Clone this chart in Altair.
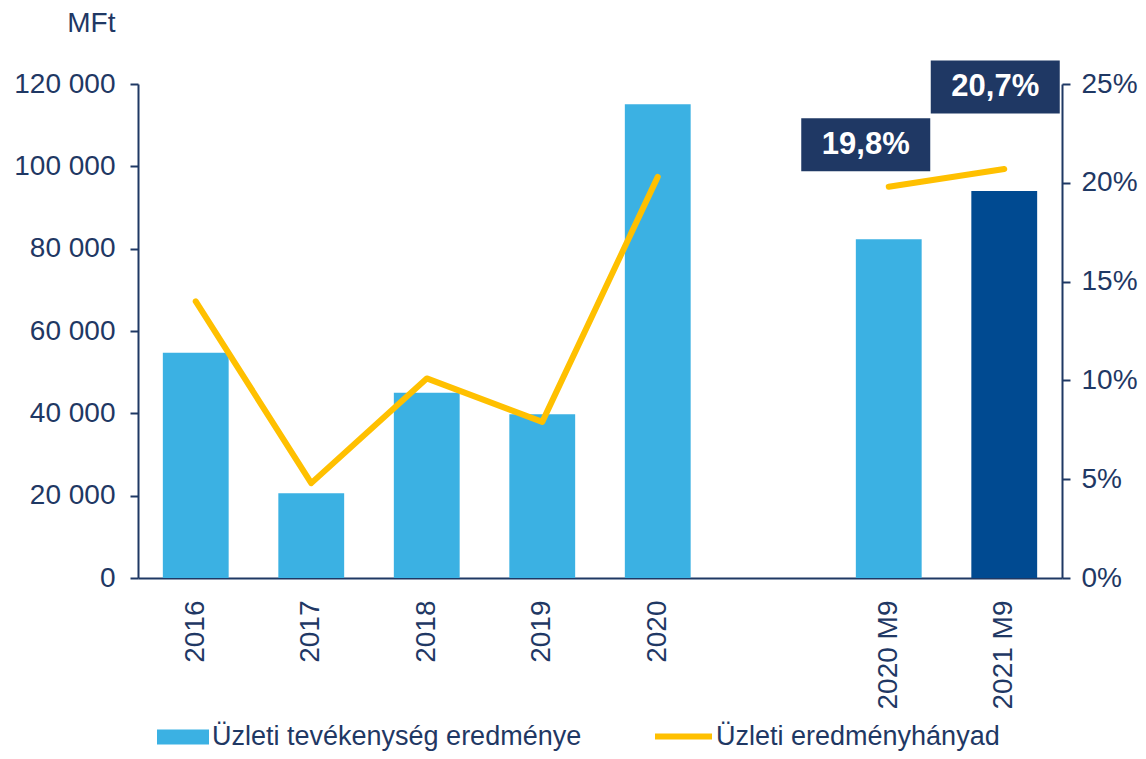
import altair as alt
import pandas as pd

# ---- data ----
categories = ["2016", "2017", "2018", "2019", "2020", " ", "2020 M9", "2021 M9"]
bar_cats = ["2016", "2017", "2018", "2019", "2020", "2020 M9", "2021 M9"]
bar_values = [54700, 20600, 45000, 39800, 115100, 82300, 94000]
pct_cats = ["2016", "2017", "2018", "2019", "2020", "2020 M9", "2021 M9"]
pct_values = [0.140, 0.048, 0.101, 0.079, 0.203, 0.198, 0.207]
pct_segment = ["év", "év", "év", "év", "év", "M9", "M9"]
pct_labels = ["14,0%", "4,8%", "10,1%", "7,9%", "20,3%", "19,8%", "20,7%"]
bar_series = "Üzleti tevékenység eredménye"
line_series = "Üzleti eredményhányad"

NAVY = "#1F3864"
LIGHT = "#3BB1E3"
DARK = "#004A91"
YELLOW = "#FFC000"
FONT = "Liberation Sans"

bars_df = pd.DataFrame({"cat": bar_cats, "value": bar_values, "series": bar_series})
pct_df = pd.DataFrame({"cat": pct_cats, "pct": pct_values, "seg": pct_segment,
                       "label": pct_labels, "series": line_series})

x_enc = alt.X("cat:N", scale=alt.Scale(domain=categories, paddingInner=0.43, paddingOuter=0.215),
              sort=None,
              axis=alt.Axis(title=None, labelAngle=-90, ticks=False, labelPadding=22,
                            domainColor=NAVY, domainWidth=2, labelColor=NAVY,
                            labelFontSize=28, labelFont=FONT, grid=False))

bars = alt.Chart(bars_df).mark_bar().encode(
    x=x_enc,
    y=alt.Y("value:Q", scale=alt.Scale(domain=[0, 120000], nice=False),
            axis=alt.Axis(values=[0, 20000, 40000, 60000, 80000, 100000, 120000],
                          labelExpr="replace(format(datum.value, ','), ',', ' ')",
                          grid=False, domainColor=NAVY, domainWidth=2, tickColor=NAVY,
                          tickWidth=2, tickSize=8, labelPadding=15, labelColor=NAVY,
                          labelFontSize=28, labelFont=FONT,
                          title="MFt", titleAngle=0, titleAlign="right", titleBaseline="middle",
                          titleX=-23, titleY=-61, titleFont=FONT, titleFontSize=28,
                          titleFontWeight="normal", titleColor=NAVY)),
    color=alt.condition(alt.datum.cat == "2021 M9", alt.value(DARK),
                        alt.Color("series:N", scale=alt.Scale(domain=[bar_series], range=[LIGHT]),
                                  legend=alt.Legend(title=None, orient="none", legendX=19, legendY=627,
                                                    symbolType="M-1,-0.29L1,-0.29L1,0.29L-1,0.29Z",
                                                    symbolSize=2704, symbolStrokeWidth=0,
                                                    labelFontSize=27, labelFont=FONT, labelColor=NAVY,
                                                    labelOffset=3, labelLimit=0, padding=0)))
)

pct_scale = alt.Scale(domain=[0, 0.25], nice=False)
pct_axis = alt.Axis(orient="right", values=[0, 0.05, 0.10, 0.15, 0.20, 0.25], format=".0%",
                    grid=False, domainColor=NAVY, domainWidth=2, tickColor=NAVY,
                    tickWidth=2, tickSize=8, labelPadding=11, labelColor=NAVY,
                    labelFontSize=28, labelFont=FONT, title=None)

line = alt.Chart(pct_df).mark_line(strokeWidth=6, strokeCap="round", strokeJoin="round").encode(
    x=alt.X("cat:N", sort=None),
    y=alt.Y("pct:Q", scale=pct_scale, axis=pct_axis),
    detail="seg:N",
    stroke=alt.Stroke("series:N", scale=alt.Scale(domain=[line_series], range=[YELLOW]),
                      legend=alt.Legend(title=None, orient="none", legendX=514, legendY=621,
                                        symbolType="stroke", symbolSize=3249, symbolStrokeWidth=6,
                                        labelFontSize=27, labelFont=FONT, labelColor=NAVY,
                                        labelOffset=1, labelLimit=0, padding=0)),
)

BOX = "M-1,-0.41L1,-0.41L1,0.41L-1,0.41Z"


def label_layer(cat, dx, dy):
    base = alt.Chart(pct_df).transform_filter(alt.datum.cat == cat)
    box = base.mark_point(shape=BOX, size=129 * 129, filled=True, opacity=1, color=NAVY,
                          strokeWidth=0, xOffset=dx, yOffset=dy).encode(
        x=alt.X("cat:N", sort=None), y=alt.Y("pct:Q", scale=pct_scale, axis=pct_axis))
    txt = base.mark_text(color="white", fontWeight="bold", fontSize=31, font=FONT,
                         baseline="middle", align="center", dx=dx, dy=dy).encode(
        x=alt.X("cat:N", sort=None), y=alt.Y("pct:Q", scale=pct_scale, axis=pct_axis),
        text="label:N")
    return [box, txt]


right = alt.layer(line, *label_layer("2020 M9", -23, -42), *label_layer("2021 M9", -9, -82))

chart = alt.layer(bars, right).resolve_scale(y="independent", color="independent").properties(
    width=924, height=494,
    padding={"left": 130, "top": 76, "right": 76, "bottom": 173},
    autosize=alt.AutoSizeParams(type="none"),
).configure(font=FONT).configure_view(strokeWidth=0, stroke="transparent").configure_axis(
    grid=False
)

chart.save("out.html", embed_options={"renderer": "svg", "actions": False})
